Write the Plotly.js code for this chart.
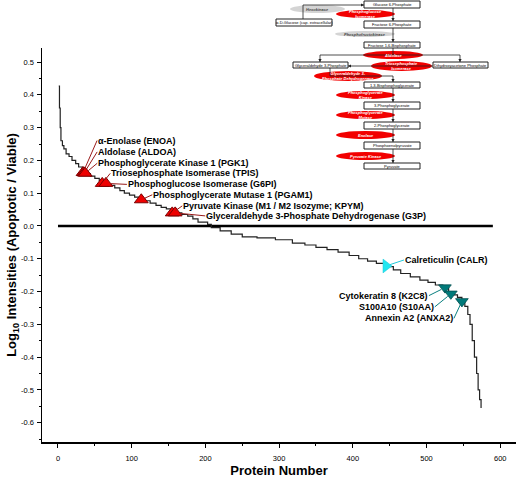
<!DOCTYPE html>
<html><head><meta charset="utf-8">
<script src="https://cdn.plot.ly/plotly-3.0.1.min.js"></script>
<style>html,body{margin:0;padding:0;background:#fff}#chart{width:516px;height:478px}</style>
</head><body><div id="chart"></div>
<script>
// ---- Data ----
const proteinNumber = [1,2,3,4,6,8,11,15,19,24,28,33,38,44,50,56,62,70,77,84,90,97,104,111,118,125,133,140,147,153,160,168,176,183,190,203,208,220,235,250,270,295,318,335,350,365,380,395,408,420,432,446,455,465,478,491,502,512,522,530,536,542,548,552,556,559,562,565,568,570,572,574];
const logRatio = [0.427,0.36,0.30,0.26,0.245,0.235,0.22,0.212,0.20,0.19,0.18,0.172,0.16,0.152,0.145,0.138,0.13,0.124,0.116,0.108,0.10,0.094,0.088,0.082,0.077,0.07,0.063,0.057,0.052,0.046,0.04,0.035,0.03,0.022,0.012,0.005,-0.005,-0.015,-0.025,-0.033,-0.036,-0.042,-0.052,-0.058,-0.065,-0.072,-0.08,-0.09,-0.10,-0.107,-0.114,-0.124,-0.134,-0.145,-0.155,-0.165,-0.172,-0.18,-0.19,-0.20,-0.21,-0.218,-0.228,-0.245,-0.27,-0.30,-0.35,-0.40,-0.45,-0.50,-0.53,-0.555];

const glycoNames = ['\u03b1-Enolase (ENOA)','Aldolase (ALDOA)','Phosphoglycerate Kinase 1 (PGK1)','Triosephosphate Isomerase (TPIS)','Phosphoglucose Isomerase (G6PI)','Phosphoglycerate Mutase 1 (PGAM1)','Pyruvate Kinase (M1 / M2 Isozyme; KPYM)','Glyceraldehyde 3-Phosphate Dehydrogenase (G3P)'];
const glycoX = [34,35.5,37,60,65,113,155,159];
const glycoY = [0.163,0.162,0.161,0.13,0.13,0.08,0.04,0.04];

const calrNames = ['Calreticulin (CALR)'];
const calrX = [445];
const calrY = [-0.122];

const downNames = ['Cytokeratin 8 (K2C8)','S100A10 (S10AA)','Annexin A2 (ANXA2)'];
const downX = [525,533,548];
const downY = [-0.188,-0.207,-0.23];

const zeroLineX = [0,590];
const zeroLineY = [0,0];

const xTickVals = [0,100,200,300,400,500,600];
const yTickVals = [0.5,0.4,0.3,0.2,0.1,0.0,-0.1,-0.2,-0.3,-0.4,-0.5,-0.6];
const yTickText = ['0.5','0.4','0.3','0.2','0.1','0.0','-0.1','-0.2','-0.3','-0.4','-0.5','-0.6'];
const xTitle = 'Protein Number';
const yTitle = 'Log<sub>10</sub> Intensities (Apoptotic / Viable)';

// inset pathway text
const metabolites = ['Glucose 6-Phosphate','\u03b1-D-Glucose (cap. extracellular)','Fructose 6-Phosphate','Fructose 1,6-Bisphosphate','Glyceraldehyde 3-Phosphate','Dihydroxyacetone Phosphate','1,3-Bisphosphoglycerate','3-Phosphoglycerate','2-Phosphoglycerate','Phosphoenolpyruvate','Pyruvate'];
const enzymes = ['Hexokinase','Phosphoglucose<br>Isomerase','Phosphofructokinase','Aldolase','Triosephosphate<br>Isomerase','Glyceraldehyde 3-<br>Phosphate Dehydrogenase','Phosphoglycerate<br>Kinase','Phosphoglycerate<br>Mutase','Enolase','Pyruvate Kinase'];
const enzymeFound = [false,true,false,true,true,true,true,true,true,true];

// ---- Layout helpers (pixel -> paper, margins are zero) ----
const W = 516, H = 478;
const px = x => x / W;
const py = y => 1 - y / H;
const FONT = 'Arial, "Liberation Sans", sans-serif';

const traces = [
  {x: zeroLineX, y: zeroLineY, mode: 'lines', line: {color: '#000', width: 2.5}, hoverinfo: 'skip'},
  {x: proteinNumber, y: logRatio, mode: 'lines', line: {color: '#222', width: 1.2, shape: 'hv'}},
  {x: glycoX, y: glycoY, text: glycoNames, mode: 'markers',
   marker: {symbol: 'triangle-up', size: 12, color: '#ee0000', line: {color: '#7a0000', width: 1}}},
  {x: calrX, y: calrY, text: calrNames, mode: 'markers',
   marker: {symbol: 'triangle-right', size: 12, color: '#22e6f0', line: {color: '#22c8d8', width: 0.5}}},
  {x: downX, y: downY, text: downNames, mode: 'markers',
   marker: {symbol: 'triangle-down', size: 11, color: '#007a7a', line: {color: '#004f4f', width: 0.8}}}
];

// label tails as pixel offsets from their markers, anchors
const glycoOff = [[14,-32,'left'],[13,-21,'left'],[12,-10,'left'],[8,-10,'left'],[21,1,'left'],[11,-5,'left'],[10,-7,'left'],[30,3,'left']];
const downOff = [[-16,8,'right'],[-16,13,'right'],[-8,17,'right']];

const annotations = [];
function label(x, y, t, off, col) {
  annotations.push({x: x, y: y, xref: 'x', yref: 'y', text: '<b>' + t + '</b>', showarrow: true,
    ax: off[0], ay: off[1], xanchor: off[2], yanchor: 'middle', arrowhead: 0, arrowwidth: 1,
    arrowcolor: col, standoff: 4, borderpad: 0, font: {family: FONT, size: 9, color: '#000'}});
}
glycoNames.forEach((t, i) => label(glycoX[i], glycoY[i], t, glycoOff[i], '#9a1a1a'));
label(calrX[0], calrY[0], calrNames[0], [18,-6,'left'], '#22c8d8');
downNames.forEach((t, i) => label(downX[i], downY[i], t, downOff[i], '#0a8080'));

// ---- inset pathway diagram ----
const shapes = [];
const boxPos = [[364,420,1,8],[276,332,19,26],[364,420,21,28],[364,420,42,48],[293,348,62,68],[433,488,62,68],[364,420,82,88],[364,420,102,109],[364,420,122,129],[364,420,142,149],[364,420,163,169]];
const ellPos = [[290,345,5,13],[336,395,10,18],[335,395,31,37],[363,423,51,59],[371,432,61,71],[314,382,71,81],[336,395,91,99],[336,395,111,119],[336,395,131,139],[336,395,152,160]];
const plainLines = [[303,19,303,5],[303,5,340,5],[393,48,393,55],[320,55,460,55],[330,68,330,76],[330,76,393,76]];
const arrows = [[340,5,364,5],[393,8,393,21],[393,28,393,42],[320,55,320,62],[460,55,460,62],[433,66,348,66],[393,76,393,82],[393,88,393,102],[393,109,393,122],[393,129,393,142],[393,149,393,163]];

function seg(x0, y0, x1, y1) {
  shapes.push({type: 'line', xref: 'paper', yref: 'paper', x0: px(x0), y0: py(y0), x1: px(x1), y1: py(y1),
    line: {color: '#222', width: 0.8}, layer: 'above'});
}
function head(x0, y0, x1, y1) {
  const dx = x1 - x0, dy = y1 - y0, L = Math.hypot(dx, dy), ux = dx / L, uy = dy / L;
  const len = 3, hw = 1.6;
  const bx = x1 - ux * len, by = y1 - uy * len;
  const p = [[x1, y1], [bx - uy * hw, by + ux * hw], [bx + uy * hw, by - ux * hw]];
  shapes.push({type: 'path', xref: 'paper', yref: 'paper',
    path: 'M' + p.map(q => px(q[0]) + ',' + py(q[1])).join(' L') + ' Z',
    fillcolor: '#222', line: {width: 0}, layer: 'above'});
}

ellPos.forEach((e, i) => {
  shapes.push({type: 'circle', xref: 'paper', yref: 'paper', x0: px(e[0]), x1: px(e[1]), y0: py(e[2]), y1: py(e[3]),
    fillcolor: enzymeFound[i] ? '#f20000' : '#d4d4d4', line: {width: 0}, layer: 'above'});
  annotations.push({xref: 'paper', yref: 'paper', x: px((e[0] + e[1]) / 2), y: py((e[2] + e[3]) / 2), showarrow: false,
    text: '<i><b>' + enzymes[i] + '</b></i>', xanchor: 'center', yanchor: 'middle',
    font: {family: FONT, size: 4, color: enzymeFound[i] ? '#ffffff' : '#444'}});
});
plainLines.forEach(l => seg(l[0], l[1], l[2], l[3]));
arrows.forEach(a => { seg(a[0], a[1], a[2], a[3]); head(a[0], a[1], a[2], a[3]); });
boxPos.forEach((b, i) => {
  shapes.push({type: 'rect', xref: 'paper', yref: 'paper', x0: px(b[0]), x1: px(b[1]), y0: py(b[2]), y1: py(b[3]),
    fillcolor: '#fff', line: {color: '#222', width: 1}, layer: 'above'});
  annotations.push({xref: 'paper', yref: 'paper', x: px((b[0] + b[1]) / 2), y: py((b[2] + b[3]) / 2), showarrow: false,
    text: metabolites[i], xanchor: 'center', yanchor: 'middle', font: {family: FONT, size: 4, color: '#000'}});
});

const layout = {
  width: W, height: H,
  margin: {l: 0, r: 0, t: 0, b: 0},
  paper_bgcolor: '#fff', plot_bgcolor: 'rgba(0,0,0,0)',
  showlegend: false,
  font: {family: FONT, color: '#000'},
  xaxis: {domain: [42 / W, 1], range: [-21.7, 621.4], showgrid: false, zeroline: false,
    title: {text: '<b>' + xTitle + '</b>', standoff: 8, font: {family: FONT, size: 13, color: '#000'}},
    showline: true, linecolor: '#000', linewidth: 1.5, ticks: 'outside', ticklen: 4, tickwidth: 1, tickcolor: '#000',
    ticklabelstandoff: 4,
    tickvals: xTickVals, tickfont: {size: 7.5, family: FONT, color: '#000'}, fixedrange: true,
    minor: {dtick: 50, tick0: 0, ticks: 'outside', ticklen: 2, tickcolor: '#000', showgrid: false}},
  yaxis: {domain: [(H - 442) / H, (H - 48) / H], range: [-0.659, 0.543], showgrid: false, zeroline: false,
    title: {text: '<b>' + yTitle + '</b>', standoff: 0, font: {family: FONT, size: 13, color: '#000'}},
    showline: true, linecolor: '#000', linewidth: 1.5, ticks: 'outside', ticklen: 4, tickwidth: 1, tickcolor: '#000',
    ticklabelstandoff: 1,
    tickvals: yTickVals, ticktext: yTickText, tickfont: {size: 7.5, family: FONT, color: '#000'}, fixedrange: true,
    minor: {dtick: 0.05, tick0: 0, ticks: 'outside', ticklen: 2, tickcolor: '#000', showgrid: false}},
  shapes: shapes,
  annotations: annotations
};

Plotly.newPlot('chart', traces, layout, {displayModeBar: false, staticPlot: true});
</script></body></html>
